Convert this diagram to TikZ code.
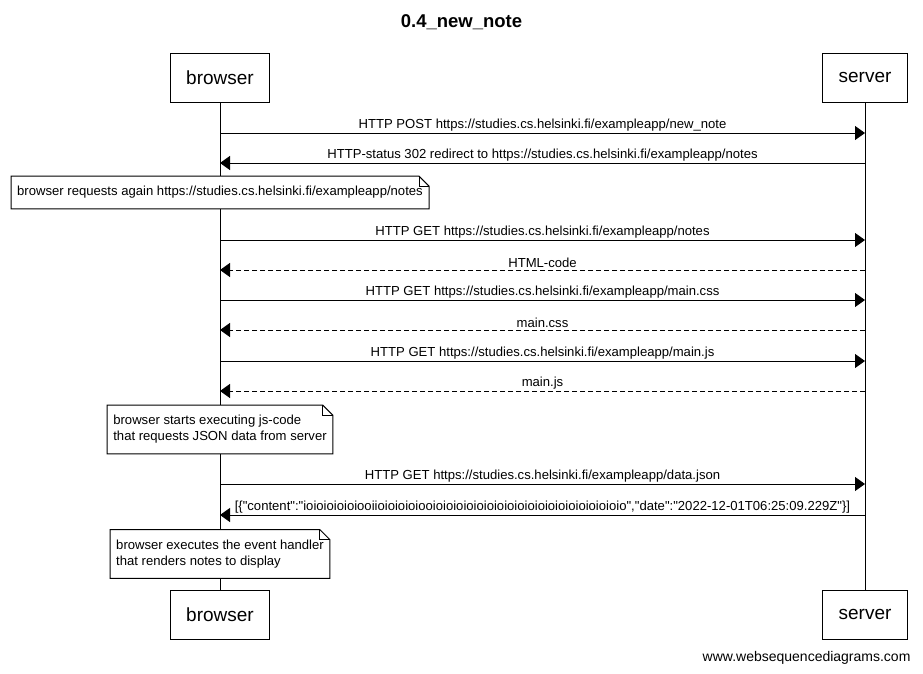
\documentclass[tikz,border=0pt]{standalone}
\usepackage{fontspec}
\setmainfont{Liberation Sans}
\newfontfamily\plainfont{Liberation Sans}
\usetikzlibrary{arrows.meta}

\tikzset{
  actor/.style={draw, fill=white, line width=1pt, minimum height=49pt, inner xsep=16pt, font=\fontsize{19}{22}\selectfont},
  call/.style={line width=1pt, -{Triangle[length=10pt,width=14pt]}},
  reply/.style={call, dash pattern=on 5pt off 3pt},
  msg/.style={above, inner sep=1.5pt, font=\plainfont\fontsize{13.1}{15}\selectfont},
  note/.style={fill=white, align=left, inner xsep=6pt, inner ysep=10pt, font=\fontsize{13.1}{16}\selectfont},
}

% note box with folded corner
\newcommand{\dognote}[1]{%
  \draw[line width=1pt] (#1.south west) -- (#1.north west) -- ([xshift=-10pt]#1.north east)
    -- ([yshift=-10pt]#1.north east) -- (#1.south east) -- cycle;
  \draw[line width=1pt] ([xshift=-10pt]#1.north east) |- ([yshift=-10pt]#1.north east);
}

\begin{document}
\begin{tikzpicture}[x=1pt, y=-1pt]

\def \bx{220}
\def \sx{865}

\useasboundingbox [fill=white] (0,0) rectangle (923,673);

\node [font=\fontsize{18.5}{22}\selectfont\bfseries] (title) at (461.5,22) {0.4\_new\_note};

\node [actor] (bt) at (\bx,77.5) {browser};
\node [actor] (st) at (\sx,77.5) {server};
\node [actor] (bb) at (\bx,614.5) {browser};
\node [actor] (sb) at (\sx,614.5) {server};

\draw [line width=1pt] (bt) -- (bb);
\draw [line width=1pt] (st) -- (sb);

% message rows on the lifelines
\foreach \i/\y in {1/133, 2/163, 3/240, 4/270, 5/300, 6/330, 7/361, 8/391, 9/484, 10/515}{
\coordinate (b\i) at (\bx,\y);
\coordinate (s\i) at (\sx,\y);
}

\draw [call] (b1) -- node [msg] {HTTP POST https://studies.cs.helsinki.fi/exampleapp/new\_note} (s1);
\draw [call] (s2) -- node [msg] {HTTP-status 302 redirect to https://studies.cs.helsinki.fi/exampleapp/notes} (b2);

\node [note] (n1) at (\bx,192.5) {browser requests again https://studies.cs.helsinki.fi/exampleapp/notes};
\dognote{n1}

\draw [call] (b3) -- node [msg] {HTTP GET https://studies.cs.helsinki.fi/exampleapp/notes} (s3);
\draw [reply] (s4) -- node [msg] {HTML-code} (b4);
\draw [call] (b5) -- node [msg] {HTTP GET https://studies.cs.helsinki.fi/exampleapp/main.css} (s5);
\draw [reply] (s6) -- node [msg] {main.css} (b6);
\draw [call] (b7) -- node [msg] {HTTP GET https://studies.cs.helsinki.fi/exampleapp/main.js} (s7);
\draw [reply] (s8) -- node [msg] {main.js} (b8);

\node [note] (n2) at (\bx,429.5) {browser starts executing js-code\\that requests JSON data from server};
\dognote{n2}

\draw [call] (b9) -- node [msg] {HTTP GET https://studies.cs.helsinki.fi/exampleapp/data.json} (s9);
\draw [call] (s10) -- node [msg] {[\{"content":"ioioioioioiooiioioioioiooioioioioioioioioioioioioioioioioioioio","date":"2022-12-01T06:25:09.229Z"\}]} (b10);

\node [note] (n3) at (\bx,554) {browser executes the event handler\\that renders notes to display};
\dognote{n3}

\node [anchor=east, font=\fontsize{14}{16}\selectfont] (credit) at (914,658) {www.websequencediagrams.com};

\end{tikzpicture}
\end{document}
